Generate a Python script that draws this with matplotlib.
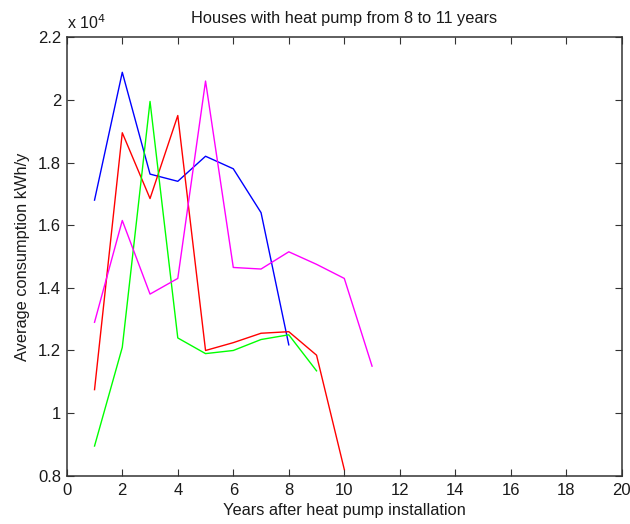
import matplotlib
matplotlib.use('Agg')
import matplotlib.pyplot as plt
from matplotlib.ticker import FuncFormatter

plt.rcParams['font.family'] = ['Liberation Sans', 'DejaVu Sans']

# average consumption per year after installation (kWh/y)
blue_years = [1, 2, 3, 4, 5, 6, 7, 8]
blue_vals = [16800, 20880, 17630, 17400, 18200, 17800, 16400, 12180]

red_years = [1, 2, 3, 4, 5, 6, 7, 8, 9, 10]
red_vals = [10750, 18950, 16850, 19500, 12000, 12250, 12550, 12600, 11850, 8200]

green_years = [1, 2, 3, 4, 5, 6, 7, 8, 9]
green_vals = [8950, 12100, 19950, 12400, 11900, 12000, 12350, 12500, 11350]

magenta_years = [1, 2, 3, 4, 5, 6, 7, 8, 9, 10, 11]
magenta_vals = [12900, 16150, 13800, 14300, 20600, 14650, 14600, 15150, 14750, 14300, 11500]

fig = plt.figure(figsize=(6.3, 5.24), dpi=100)
ax = fig.add_axes([0.106, 0.092, 0.881, 0.837])

ax.plot(blue_years, blue_vals, color='#0000ff', lw=1)
ax.plot(red_years, red_vals, color='#ff0000', lw=1)
ax.plot(green_years, green_vals, color='#00ff00', lw=1)
ax.plot(magenta_years, magenta_vals, color='#ff00ff', lw=1)

ax.set_xlim(0, 20)
ax.set_ylim(8000, 22000)
ax.set_xticks(range(0, 21, 2))
ax.set_yticks([8000, 10000, 12000, 14000, 16000, 18000, 20000, 22000])
ax.yaxis.set_major_formatter(FuncFormatter(lambda v, p: f"{v / 1e4:g}"))
ax.tick_params(direction='in', top=True, right=True, labelsize=12, length=5,
               color='#333333', labelcolor='#1a1a1a')
ax.tick_params(axis='x', pad=5)
ax.tick_params(axis='y', pad=4)
for s in ax.spines.values():
    s.set_linewidth(1.1)
    s.set_color('#333333')

ax.set_title("Houses with heat pump from 8 to 11 years", fontsize=11.8, pad=10, color='#1a1a1a')
ax.set_xlabel("Years after heat pump installation", fontsize=11.8, labelpad=4, color='#1a1a1a')
ax.set_ylabel("Average consumption kWh/y", fontsize=11.8, labelpad=6, color='#1a1a1a')
ax.text(0, 1.012, r"x 10$^4$", transform=ax.transAxes, fontsize=11.5, va='bottom',
        color='#1a1a1a')

fig.savefig('out.png', dpi=100)
